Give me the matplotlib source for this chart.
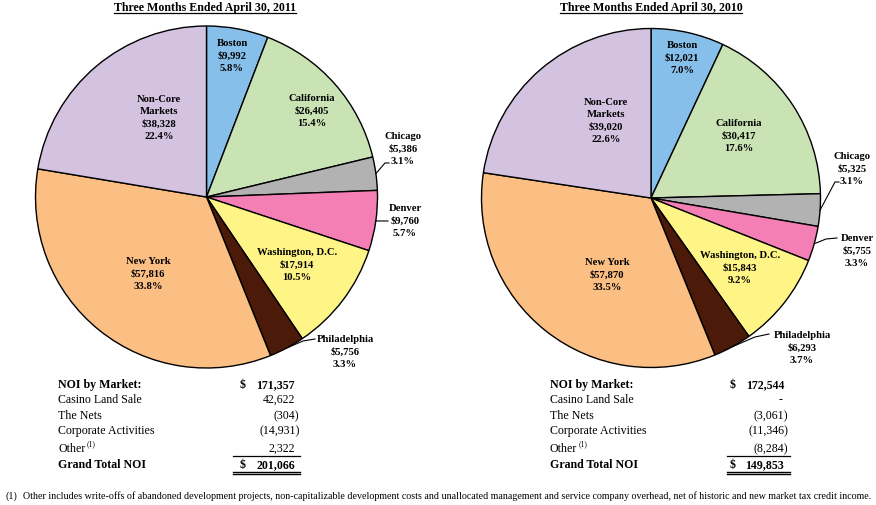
import math
import matplotlib
matplotlib.use('Agg')
import matplotlib.pyplot as plt

W, H = 876, 506

# ---------------- data ----------------
markets = ['Boston', 'California', 'Chicago', 'Denver', 'Washington, D.C.',
           'Philadelphia', 'New York', 'Non-Core\nMarkets']
noi_2011 = [9992, 26405, 5386, 9760, 17914, 5756, 57816, 38328]
pct_2011 = [5.8, 15.4, 3.1, 5.7, 10.5, 3.3, 33.8, 22.4]
noi_2010 = [12021, 30417, 5325, 5755, 15843, 6293, 57870, 39020]
pct_2010 = [7.0, 17.6, 3.1, 3.3, 9.2, 3.7, 33.5, 22.6]
titles = ['Three Months Ended April 30, 2011', 'Three Months Ended April 30, 2010']

table_labels = ['NOI by Market:', 'Casino Land Sale', 'The Nets',
                'Corporate Activities', 'Other', 'Grand Total NOI']
table_2011 = [171357, 42622, -304, -14931, 2322, 201066]
table_2010 = [172544, None, -3061, -11346, -8284, 149853]
footnote = ('Other includes write-offs of abandoned development projects, non-capitalizable '
            'development costs and unallocated management and service company overhead, '
            'net of historic and new market tax credit income.')

colors = ['#86BFE9', '#C9E3B5', '#B2B2B2', '#F37FB5', '#FFF486',
          '#4B1A08', '#FBBF84', '#D3C2E0']

# ---------------- layout (pixels) ----------------
panels = [
    dict(values=noi_2011, pcts=pct_2011, table=table_2011, title=titles[0],
         center=(206.5, 198), radius=171, title_x=205,
         labels=[(232, 56), (312, 111), (403, 149), (405, 221), (297, 265),
                 (345, 352), (148, 274), (159, 118)],
         leaders={2: [(385, 164), (389, 164)], 3: [(381, 222), (388, 222)],
                  5: [(303, 342), (315, 340)]},
         tab_label_x=58, dollar_x=240, num_right=295, line_x=(233, 300)),
    dict(values=noi_2010, pcts=pct_2010, table=table_2010, title=titles[1],
         center=(651, 199), radius=169.5, title_x=651,
         labels=[(682, 58), (739, 136), (852, 169), (857, 251), (740, 268),
                 (802, 348), (607, 275), (606, 121)],
         leaders={2: [(835, 183), (839, 183)], 3: [(826, 240), (837, 239)],
                  5: [(755, 338), (769, 335)]},
         tab_label_x=550, dollar_x=730, num_right=784, line_x=(727, 790)),
]

row_y = [385, 400, 416, 431, 449, 465]

serif = ['Liberation Serif', 'DejaVu Serif']
plt.rcParams['font.family'] = serif

fig = plt.figure(figsize=(W / 100, H / 100), dpi=100)
ax = fig.add_axes([0, 0, 1, 1])

title_texts = []
for p in panels:
    cx, cy = p['center']
    r = p['radius']
    ax.pie(p['values'], colors=colors, startangle=-90, counterclock=True,
           center=(cx, cy), radius=r, frame=True,
           wedgeprops=dict(edgecolor='black', linewidth=1.0))
    total = sum(p['values'])
    cum = 0
    for i, (name, v, pc) in enumerate(zip(markets, p['values'], p['pcts'])):
        a = math.radians(360.0 * (cum + v / 2.0) / total)
        cum += v
        lx, ly = p['labels'][i]
        ax.text(lx, ly, f'{name}\n\\${v:,}\n{pc:.1f}%', ha='center', va='center',
                multialignment='center', fontsize=7.7, fontweight='bold',
                linespacing=1.45, color='black')
        if i in p['leaders']:
            ex = cx + r * math.sin(a)
            ey = cy - r * math.cos(a)
            pts = [(ex, ey)] + p['leaders'][i]
            ax.plot([q[0] for q in pts], [q[1] for q in pts], color='black', lw=0.8)
    t = ax.text(p['title_x'], 8, p['title'], ha='center', va='center',
                fontsize=8.6, fontweight='bold')
    title_texts.append(t)

    # table
    for j, (lab, val) in enumerate(zip(table_labels, p['table'])):
        bold = j in (0, 5)
        y = row_y[j]
        ax.text(p['tab_label_x'], y, lab, ha='left', va='center', fontsize=8.6,
                fontweight='bold' if bold else 'normal')
        if j == 4:
            ax.text(p['tab_label_x'] + 29, y - 5, '(1)', ha='left', va='center', fontsize=5.5)
        if bold:
            ax.text(p['dollar_x'], y, '\\$', ha='left', va='center', fontsize=8.6,
                    fontweight='bold')
        if val is None:
            s, xr = '-', p['num_right'] - 1
        elif val < 0:
            s, xr = f'({-val:,})', p['num_right'] + 4.5
        else:
            s, xr = f'{val:,}', p['num_right']
        ax.text(xr, y, s, ha='right', va='center', fontsize=8.6,
                fontweight='bold' if bold else 'normal')
    x0, x1 = p['line_x']
    ax.plot([x0, x1], [456.5, 456.5], color='black', lw=0.9)
    ax.plot([x0, x1], [472.5, 472.5], color='black', lw=1.0)
    ax.plot([x0, x1], [475, 475], color='black', lw=1.0)

# footnote
ax.text(5, 496, '(1)', ha='left', va='center', fontsize=7.22)
ax.text(23, 496, footnote, ha='left', va='center', fontsize=7.22)

ax.set_xlim(0, W)
ax.set_ylim(H, 0)
ax.set_aspect('equal', adjustable='box')
ax.axis('off')

# title underlines
fig.canvas.draw()
renderer = fig.canvas.get_renderer()
inv = ax.transData.inverted()
for t in title_texts:
    bb = t.get_window_extent(renderer)
    (xa, ya), (xb, yb) = inv.transform([(bb.x0, bb.y0 + 0.5), (bb.x1, bb.y0 + 0.5)])
    ax.plot([xa, xb], [ya, yb], color='black', lw=0.9)

fig.savefig('out.png', dpi=100, facecolor='white')
